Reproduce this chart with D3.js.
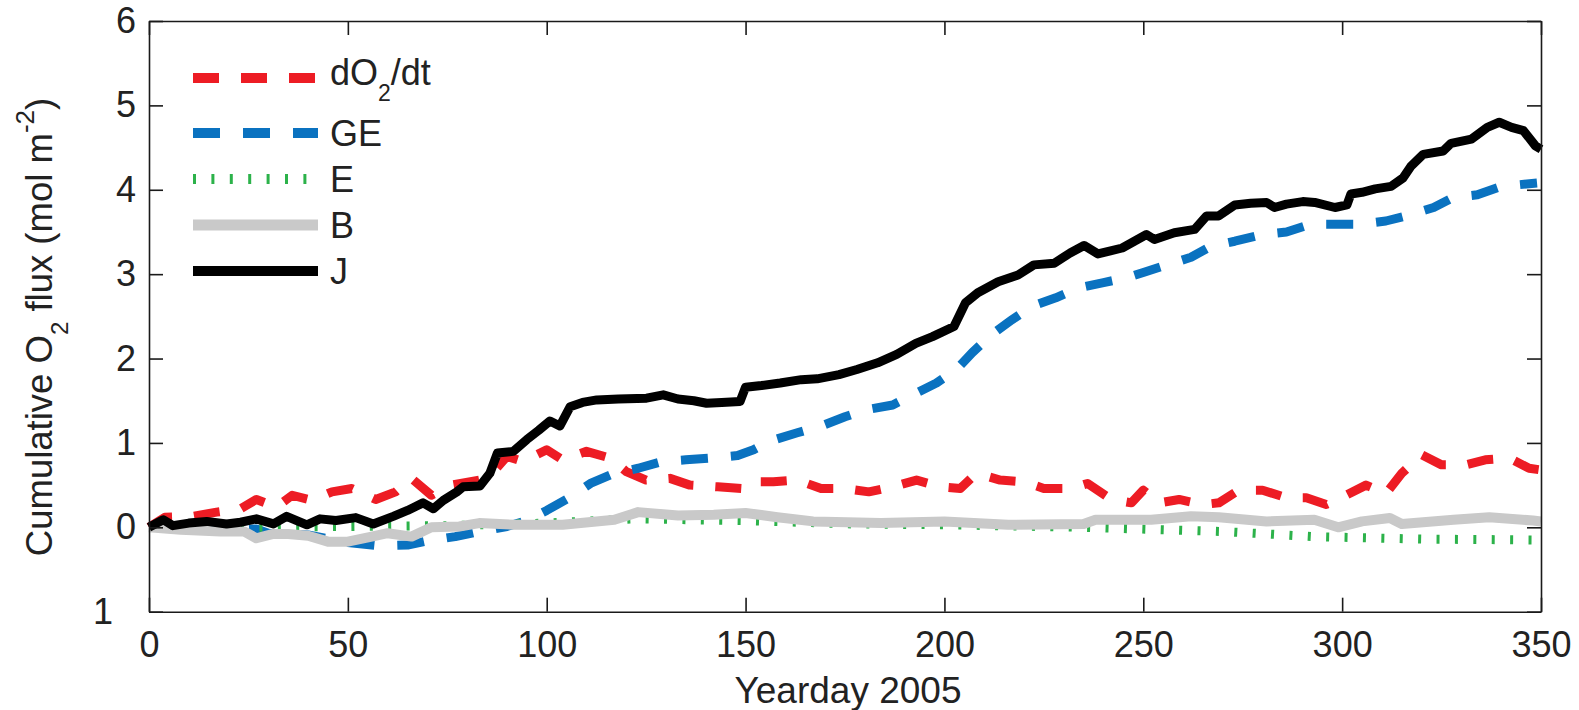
<!DOCTYPE html>
<html>
<head>
<meta charset="utf-8">
<script src="https://cdn.jsdelivr.net/npm/d3@7"></script>
<style>
  body { margin: 0; background: #fff; }
  svg { display: block; font-family: "Liberation Sans", Arial, Helvetica, sans-serif; }
</style>
</head>
<body>
<svg id="chart"></svg>
<script>
// values (yearday, cumulative O2 flux in mol m-2)
const dDays = [0, 4, 11, 17, 23, 27, 32, 36, 41, 46, 51, 57, 62, 66, 71, 76, 83, 87, 90, 94, 100, 104, 110, 116, 120, 125, 131, 136, 143, 149, 151, 157, 163, 169, 175, 181, 187, 193, 199, 204, 208, 214, 220, 225, 232, 236, 242, 247, 250, 254, 259, 265, 269, 274, 280, 286, 291, 296, 301, 306, 311, 315, 320, 325, 331, 336, 342, 347, 350];
const dFlux = [0, 0.12, 0.13, 0.18, 0.22, 0.33, 0.24, 0.38, 0.32, 0.42, 0.46, 0.33, 0.42, 0.58, 0.38, 0.50, 0.56, 0.68, 0.84, 0.78, 0.92, 0.80, 0.90, 0.82, 0.66, 0.56, 0.58, 0.50, 0.48, 0.46, 0.54, 0.54, 0.56, 0.46, 0.46, 0.42, 0.48, 0.56, 0.48, 0.46, 0.64, 0.56, 0.54, 0.46, 0.46, 0.52, 0.33, 0.29, 0.44, 0.29, 0.33, 0.27, 0.29, 0.44, 0.44, 0.35, 0.35, 0.27, 0.38, 0.50, 0.40, 0.64, 0.86, 0.74, 0.74, 0.80, 0.82, 0.70, 0.68];

const geDays = [0, 10, 20, 27, 30, 40, 50, 58, 65, 70, 77, 83, 90, 95, 100, 106, 111, 117, 123, 129, 135, 141, 148, 152, 156, 163, 169, 175, 180, 187, 192, 198, 203, 207, 212, 217, 222, 228, 234, 240, 246, 250, 256, 262, 267, 273, 280, 286, 292, 298, 304, 311, 316, 323, 328, 334, 340, 349];
const geFlux = [0, 0, -0.02, -0.02, -0.07, -0.09, -0.18, -0.22, -0.21, -0.16, -0.11, -0.05, 0.01, 0.08, 0.20, 0.36, 0.52, 0.64, 0.70, 0.78, 0.80, 0.82, 0.85, 0.92, 1.02, 1.12, 1.20, 1.31, 1.39, 1.45, 1.57, 1.71, 1.87, 2.07, 2.29, 2.46, 2.62, 2.72, 2.84, 2.90, 2.96, 3.02, 3.11, 3.20, 3.33, 3.39, 3.47, 3.50, 3.59, 3.59, 3.59, 3.63, 3.69, 3.79, 3.91, 3.94, 4.04, 4.08];

const eDays = [0, 25, 50, 75, 100, 122, 150, 177, 200, 235, 256, 270, 293, 320, 350];
const eFlux = [0, 0, 0.01, 0.02, 0.05, 0.10, 0.08, 0.04, 0.03, 0, -0.03, -0.05, -0.11, -0.14, -0.15];

const bDays = [0, 8, 18, 24, 27, 31, 35, 40, 45, 50, 56, 60, 66, 71, 78, 83, 92, 104, 117, 123, 133, 142, 150, 158, 167, 184, 200, 216, 235, 238, 252, 262, 269, 281, 293, 299, 305, 312, 315, 328, 337, 348, 350];
const bFlux = [0, -0.03, -0.05, -0.05, -0.13, -0.08, -0.08, -0.10, -0.17, -0.17, -0.11, -0.07, -0.11, 0, 0.01, 0.05, 0.03, 0.03, 0.09, 0.18, 0.14, 0.15, 0.17, 0.12, 0.07, 0.05, 0.07, 0.03, 0.04, 0.09, 0.09, 0.13, 0.12, 0.07, 0.09, 0, 0.07, 0.11, 0.04, 0.09, 0.12, 0.08, 0.07];

const jDays = [0, 3.6, 6, 10, 14.5, 19.5, 23, 27, 31.3, 34.6, 39.7, 43, 47, 52, 56.4, 61.4, 65, 68.9, 71.5, 74, 77.4, 79, 83.2, 85.7, 87.6, 91.6, 95, 98, 100.8, 103.3, 105.9, 109, 112.6, 118, 125.1, 129.3, 133, 137, 140.2, 144, 148.6, 150, 154, 158.7, 164, 168, 173.5, 178, 183.2, 188, 192.8, 197, 202.4, 205.3, 208.4, 213.5, 218.5, 222.5, 227.6, 231.6, 235.1, 238.6, 244.7, 250.8, 252.8, 257.8, 262.9, 265.9, 268.9, 273, 277, 281, 283, 286, 290.1, 293.1, 298.2, 301.2, 302.2, 305, 308.3, 312.3, 315.3, 317.3, 320.4, 325.4, 327.4, 332.5, 336.5, 339.5, 342.6, 345.6, 348.6, 350];
const jFlux = [0, 0.09, 0.02, 0.05, 0.07, 0.04, 0.06, 0.10, 0.04, 0.13, 0.03, 0.10, 0.08, 0.115, 0.04, 0.13, 0.20, 0.29, 0.22, 0.32, 0.42, 0.48, 0.49, 0.64, 0.88, 0.90, 1.04, 1.15, 1.26, 1.20, 1.43, 1.48, 1.51, 1.52, 1.53, 1.57, 1.52, 1.50, 1.47, 1.48, 1.49, 1.66, 1.68, 1.71, 1.75, 1.76, 1.81, 1.87, 1.95, 2.05, 2.18, 2.26, 2.38, 2.66, 2.78, 2.91, 2.99, 3.11, 3.13, 3.25, 3.34, 3.24, 3.31, 3.47, 3.41, 3.49, 3.53, 3.69, 3.69, 3.82, 3.84, 3.85, 3.79, 3.83, 3.86, 3.85, 3.79, 3.82, 3.95, 3.97, 4.01, 4.04, 4.14, 4.28, 4.42, 4.46, 4.55, 4.60, 4.74, 4.80, 4.74, 4.70, 4.52, 4.48];

const seriesNames = ["dO\u2082/dt", "GE", "E", "B", "J"];
const xTicks = [0, 50, 100, 150, 200, 250, 300, 350];
const yTicks = [-1, 0, 1, 2, 3, 4, 5, 6];
const yTickLabels = ["1", "0", "1", "2", "3", "4", "5", "6"];

const width = 1579, height = 710;
const plotLeft = 149, plotRight = 1541, plotTop = 21, plotBottom = 611.7;

const svg = d3.select("#chart").attr("width", width).attr("height", height);

const x = d3.scaleLinear().domain([0, 350]).range([plotLeft, plotRight]);
const y = d3.scaleLinear().domain([-1, 6]).range([plotBottom, plotTop]);

const styles = [
  { color: "#ed1c24", width: 9, dash: "26,22" },
  { color: "#0a72c0", width: 9, dash: "27,23" },
  { color: "#2cb24a", width: 9, dash: "3,15.4" },
  { color: "#c9c9c9", width: 10, dash: null },
  { color: "#000000", width: 9, dash: null }
];

const series = [
  d3.zip(dDays, dFlux),
  d3.zip(geDays, geFlux),
  d3.zip(eDays, eFlux),
  d3.zip(bDays, bFlux),
  d3.zip(jDays, jFlux)
];

const line = d3.line().x(d => x(d[0])).y(d => y(d[1]));

svg.append("g").selectAll("path")
  .data(series)
  .enter()
  .append("path")
  .attr("d", line)
  .attr("fill", "none")
  .attr("stroke", (d, i) => styles[i].color)
  .attr("stroke-width", (d, i) => styles[i].width)
  .attr("stroke-dasharray", (d, i) => styles[i].dash)
  .attr("stroke-linejoin", "round");

// axes, ticks pointing inward on all four sides
const axisColor = "#1a1a1a";
function styleAxis(g) {
  g.attr("font-size", 36).attr("font-family", null);
  g.selectAll("path, line").attr("stroke", axisColor).attr("stroke-width", 1.6);
  g.selectAll("text").attr("fill", "#222");
}

svg.append("g")
  .attr("transform", `translate(0,${plotBottom})`)
  .call(d3.axisBottom(x).tickValues(xTicks).tickSizeInner(-14).tickSizeOuter(0).tickPadding(20))
  .call(styleAxis);

svg.append("g")
  .attr("transform", `translate(0,${plotTop})`)
  .call(d3.axisTop(x).tickValues(xTicks).tickSizeInner(-14).tickSizeOuter(0).tickFormat(""))
  .call(styleAxis);

const yAxisG = svg.append("g")
  .attr("transform", `translate(${plotLeft},0)`)
  .call(d3.axisLeft(y).tickValues(yTicks).tickSizeInner(-14).tickSizeOuter(0).tickPadding(13)
    .tickFormat((d, i) => yTickLabels[i]))
  .call(styleAxis);
yAxisG.selectAll(".tick text").filter(d => d === -1).attr("dx", -23);

svg.append("g")
  .attr("transform", `translate(${plotRight},0)`)
  .call(d3.axisRight(y).tickValues(yTicks).tickSizeInner(-14).tickSizeOuter(0).tickFormat(""))
  .call(styleAxis);

// x label
svg.append("text")
  .attr("x", (plotLeft + plotRight) / 2 + 3)
  .attr("y", 703)
  .attr("text-anchor", "middle")
  .attr("font-size", 37)
  .attr("fill", "#222")
  .text("Yearday 2005");

// y label with sub/superscripts
const yl = svg.append("text")
  .attr("transform", "translate(52,327) rotate(-90)")
  .attr("text-anchor", "middle")
  .attr("font-size", 36.5)
  .attr("fill", "#222");
yl.append("tspan").text("Cumulative  O");
yl.append("tspan").attr("font-size", 24).attr("dy", 16).text("2");
yl.append("tspan").attr("dy", -16).text("  flux (mol m");
yl.append("tspan").attr("font-size", 26).attr("dy", -18).text("-2");
yl.append("tspan").attr("dy", 18).text(")");

// legend
const legendRowY = [78, 133, 179, 225, 271];
const legend = svg.append("g");
legend.selectAll("line")
  .data(styles)
  .enter()
  .append("line")
  .attr("x1", 193).attr("x2", 318)
  .attr("y1", (d, i) => legendRowY[i]).attr("y2", (d, i) => legendRowY[i])
  .attr("stroke", d => d.color)
  .attr("stroke-width", d => d.width + 1)
  .attr("stroke-dasharray", d => d.dash);

legend.selectAll("text")
  .data(seriesNames)
  .enter()
  .append("text")
  .attr("x", 330)
  .attr("y", (d, i) => legendRowY[i] + (i === 0 ? 7 : 13))
  .attr("font-size", 36)
  .attr("fill", "#222")
  .each(function (d, i) {
    const t = d3.select(this);
    if (i === 0) {
      t.append("tspan").text("dO");
      t.append("tspan").attr("font-size", 23).attr("dy", 16).text("2");
      t.append("tspan").attr("dy", -16).text("/dt");
    } else {
      t.text(d);
    }
  });
</script>
</body>
</html>
